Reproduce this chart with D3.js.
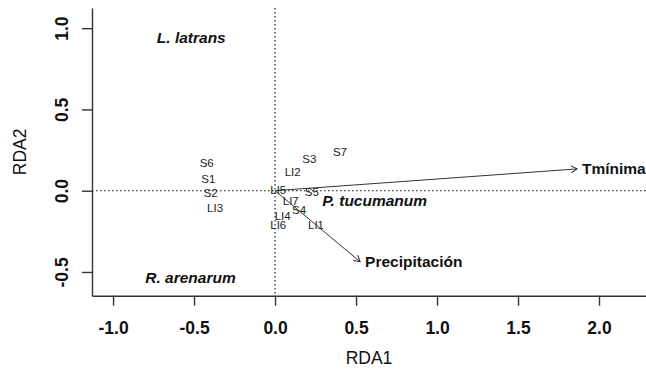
<!DOCTYPE html>
<html><head><meta charset="utf-8">
<script src="https://cdn.jsdelivr.net/npm/d3@7"></script>
<style>body{margin:0;background:#fff}svg{display:block}</style>
</head><body><svg id="c" width="646" height="384"></svg>
<script>
// Site scores
const siteLabels = ["S6","S1","S2","LI3","S3","S7","LI2","LI5","S5","LI7","S4","LI4","LI6","LI1"];
const siteX = [-0.422,-0.412,-0.397,-0.370,0.212,0.401,0.109,0.020,0.227,0.097,0.148,0.047,0.020,0.253];
const siteY = [0.172,0.070,-0.016,-0.108,0.194,0.241,0.117,0.004,-0.010,-0.062,-0.119,-0.156,-0.211,-0.211];
// Species scores
const speciesLabels = ["L. latrans","R. arenarum","P. tucumanum"];
const speciesX = [-0.517,-0.522,0.615];
const speciesY = [0.943,-0.537,-0.063];
// Environmental vectors
const envLabels = ["Tmínima","Precipitación"];
const envX = [1.864,0.525];
const envY = [0.134,-0.437];
// Ticks
const xTicks = [-1.0,-0.5,0.0,0.5,1.0,1.5,2.0];
const yTicks = [-0.5,0.0,0.5,1.0];

const svg = d3.select("#c");
const L = 92, R = 646, T = 8, B = 295.7;
const x = d3.scaleLinear().domain([-1.13, 2.29]).range([L, R]);
const y = d3.scaleLinear().domain([-0.646, 1.124]).range([B, T]);
const font = "'Liberation Sans', Arial, sans-serif";
const fmt = d => d.toFixed(1);

// zero lines
svg.append("line").attr("x1", L).attr("x2", R).attr("y1", y(0)).attr("y2", y(0))
  .attr("stroke", "#111").attr("stroke-width", 1.1).attr("stroke-dasharray", "1.5,2.5");
svg.append("line").attr("x1", x(0)).attr("x2", x(0)).attr("y1", T).attr("y2", B)
  .attr("stroke", "#111").attr("stroke-width", 1.1).attr("stroke-dasharray", "1.5,2.5");

// axes
const xa = svg.append("g").attr("transform", `translate(0,${B})`)
  .call(d3.axisBottom(x).tickValues(xTicks).tickFormat(fmt).tickSize(10).tickSizeOuter(0));
xa.selectAll("text").attr("y", 38.3).attr("dy", null)
  .style("font-family", font).style("font-size", "17.5px").style("font-weight", "bold").attr("fill", "#111");
const ya = svg.append("g").attr("transform", `translate(${L},0)`)
  .call(d3.axisLeft(y).tickValues(yTicks).tickFormat(fmt).tickSize(10).tickSizeOuter(0));
ya.selectAll("text").attr("x", 0).attr("y", 0).attr("dy", null).attr("text-anchor", "middle")
  .attr("transform", "translate(-24,0) rotate(-90)")
  .style("font-family", font).style("font-size", "17.5px").style("font-weight", "bold").attr("fill", "#111");
svg.selectAll(".domain, .tick line").attr("stroke", "#333").attr("stroke-width", 1.4);

// axis titles
svg.append("text").attr("x", (L + R) / 2).attr("y", 364).attr("text-anchor", "middle")
  .style("font-family", font).style("font-size", "17.5px").attr("fill", "#111").text("RDA1");
svg.append("text").attr("transform", `translate(26,${(T + B) / 2}) rotate(-90)`).attr("text-anchor", "middle")
  .style("font-family", font).style("font-size", "17.5px").attr("fill", "#111").text("RDA2");

// arrow marker
svg.append("defs").append("marker").attr("id", "ah").attr("markerUnits", "userSpaceOnUse")
  .attr("markerWidth", 12).attr("markerHeight", 12).attr("refX", 7).attr("refY", 6).attr("orient", "auto")
  .append("path").attr("d", "M1,2.5 L7,6 L1,9.5").attr("fill", "none").attr("stroke", "#222").attr("stroke-width", 1);

envLabels.forEach((lab, i) => {
  svg.append("line").attr("x1", x(0)).attr("y1", y(0)).attr("x2", x(envX[i])).attr("y2", y(envY[i]))
    .attr("stroke", "#333").attr("stroke-width", 1).attr("marker-end", "url(#ah)");
  svg.append("text").attr("x", x(envX[i]) + 5).attr("y", y(envY[i])).attr("dy", "0.35em")
    .style("font-family", font).style("font-size", "15.5px").style("font-weight", "bold").attr("fill", "#111").text(lab);
});

// site labels
siteLabels.forEach((lab, i) => {
  svg.append("text").attr("x", x(siteX[i])).attr("y", y(siteY[i])).attr("dy", "0.35em").attr("text-anchor", "middle")
    .style("font-family", font).style("font-size", "11.5px").attr("fill", "#222").text(lab);
});

// species labels
speciesLabels.forEach((lab, i) => {
  svg.append("text").attr("x", x(speciesX[i])).attr("y", y(speciesY[i])).attr("dy", "0.35em").attr("text-anchor", "middle")
    .style("font-family", font).style("font-size", "15.5px").style("font-weight", "bold").style("font-style", "italic")
    .attr("fill", "#111").text(lab);
});
</script></body></html>
